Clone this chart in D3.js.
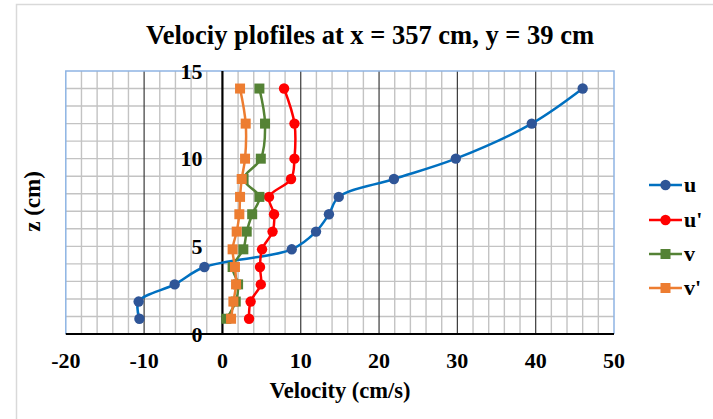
<!DOCTYPE html>
<html>
<head>
<meta charset="utf-8">
<script src="https://cdn.jsdelivr.net/npm/d3@7"></script>
<style>
  html, body { margin: 0; padding: 0; background: #fff; }
  svg { display: block; }
  text { font-family: "Liberation Serif", "Times New Roman", serif; font-weight: bold; fill: #000; }
</style>
</head>
<body>
<svg id="chart" width="713" height="419"></svg>
<script>
// ---- data ----
const zLevels = [0.87, 1.85, 2.83, 3.82, 4.83, 5.84, 6.83, 7.82, 8.84, 10, 12, 14];
const uValues = [-10.6, -10.7, -6.1, -2.3, 8.85, 11.95, 13.6, 14.85, 21.9, 29.8, 39.5, 46.0];
const uPrimeValues = [3.4, 3.6, 4.9, 4.8, 5.06, 6.4, 6.59, 5.95, 8.76, 9.2, 9.2, 7.87];
const vValues = [0.5, 1.7, 2.0, 1.3, 2.67, 3.1, 3.8, 4.72, 2.7, 4.9, 5.44, 4.72];
const vPrimeValues = [1.1, 1.4, 1.74, 1.6, 1.3, 1.82, 2.16, 2.25, 2.46, 2.89, 2.97, 2.25];
const seriesNames = ["u", "u'", "v", "v'"];
const xTicks = [-20, -10, 0, 10, 20, 30, 40, 50];
const yTicks = [0, 5, 10, 15];
const titleText = "Velociy plofiles at x = 357 cm, y = 39 cm";
const xTitle = "Velocity (cm/s)";
const yTitle = "z (cm)";

const series = [
  { name: seriesNames[0], values: uValues, line: "#0070c0", fill: "#2f5597", shape: "circle" },
  { name: seriesNames[1], values: uPrimeValues, line: "#ff0000", fill: "#ff0000", shape: "circle" },
  { name: seriesNames[2], values: vValues, line: "#548235", fill: "#548235", shape: "square" },
  { name: seriesNames[3], values: vPrimeValues, line: "#ed7d31", fill: "#ed7d31", shape: "square" }
];

const svg = d3.select("#chart");
const x = d3.scaleLinear().domain([-20, 50]).range([65.8, 614]);
const y = d3.scaleLinear().domain([0, 15]).range([334, 71]);

// outer chart border
svg.append("rect").attr("x", 16.5).attr("y", 4.5).attr("width", 720).attr("height", 440)
  .attr("fill", "none").attr("stroke", "#d9d9d9").attr("stroke-width", 1.5);

// title
svg.append("text").attr("x", 370).attr("y", 44).attr("text-anchor", "middle")
  .attr("font-size", 26.5).text(titleText);

const g = svg.append("g");
// horizontal grid every 1
g.selectAll("line.hg").data(d3.range(1, 15)).join("line")
  .attr("x1", x(-20)).attr("x2", x(50)).attr("y1", d => y(d)).attr("y2", d => y(d))
  .attr("stroke", "#c3c3c3").attr("stroke-width", 1.4);
// vertical minor grid every 2
g.selectAll("line.vg").data(d3.range(-18, 50, 2).filter(d => d % 10 !== 0)).join("line")
  .attr("x1", d => x(d)).attr("x2", d => x(d)).attr("y1", y(0)).attr("y2", y(15))
  .attr("stroke", "#c3c3c3").attr("stroke-width", 1.4);
// vertical major grid every 10
g.selectAll("line.vm").data([-10, 10, 20, 30, 40]).join("line")
  .attr("x1", d => x(d)).attr("x2", d => x(d)).attr("y1", y(0)).attr("y2", y(15))
  .attr("stroke", "#3a3a3a").attr("stroke-width", 1.2);
// plot border (light blue)
g.append("path")
  .attr("d", `M${x(-20)},${y(0)}V${y(15)}H${x(50)}V${y(0)}`)
  .attr("fill", "none").attr("stroke", "#8eb4e3").attr("stroke-width", 1.5);
// axes lines
g.append("line").attr("x1", x(-20)).attr("x2", x(50)).attr("y1", y(0)).attr("y2", y(0))
  .attr("stroke", "#000").attr("stroke-width", 2.2);
g.append("line").attr("x1", x(0)).attr("x2", x(0)).attr("y1", y(0)).attr("y2", y(15))
  .attr("stroke", "#000").attr("stroke-width", 2.2);

// x tick labels
svg.selectAll("text.xt").data(xTicks).join("text")
  .attr("x", d => x(d)).attr("y", 368).attr("text-anchor", "middle")
  .attr("font-size", 22).text(d => d);
// y tick labels
svg.selectAll("text.yt").data(yTicks).join("text")
  .attr("x", x(0) - 20).attr("y", d => y(d)).attr("dy", "0.35em").attr("text-anchor", "end")
  .attr("font-size", 22).text(d => d);

// axis titles
svg.append("text").attr("x", 340).attr("y", 398).attr("text-anchor", "middle")
  .attr("font-size", 22.5).text(xTitle);
svg.append("text").attr("transform", `translate(40,${y(7.5) - 1}) rotate(-90)`)
  .attr("text-anchor", "middle").attr("font-size", 23).text(yTitle);

// series
const lineGen = d3.line().x(d => x(d[0])).y(d => y(d[1])).curve(d3.curveCatmullRom.alpha(0.5));
function drawMarker(sel, s, cx, cy) {
  if (s.shape === "circle") {
    sel.append("circle").attr("cx", cx).attr("cy", cy).attr("r", 5.2).attr("fill", s.fill);
  } else {
    sel.append("rect").attr("x", cx - 5).attr("y", cy - 5).attr("width", 10).attr("height", 10).attr("fill", s.fill);
  }
}
series.forEach(s => {
  const pts = s.values.map((v, i) => [v, zLevels[i]]);
  const sg = svg.append("g");
  sg.append("path").attr("d", lineGen(pts)).attr("fill", "none")
    .attr("stroke", s.line).attr("stroke-width", 2.5);
  pts.forEach(p => drawMarker(sg, s, x(p[0]), y(p[1])));
});

// legend
const legendY = [185, 220, 254, 288];
series.forEach((s, i) => {
  const lg = svg.append("g");
  lg.append("line").attr("x1", 649).attr("x2", 682).attr("y1", legendY[i]).attr("y2", legendY[i])
    .attr("stroke", s.line).attr("stroke-width", 2.5);
  drawMarker(lg, s, 665.5, legendY[i]);
  lg.append("text").attr("x", 684).attr("y", legendY[i]).attr("dy", "0.32em")
    .attr("font-size", 22).text(s.name);
});
</script>
</body>
</html>
